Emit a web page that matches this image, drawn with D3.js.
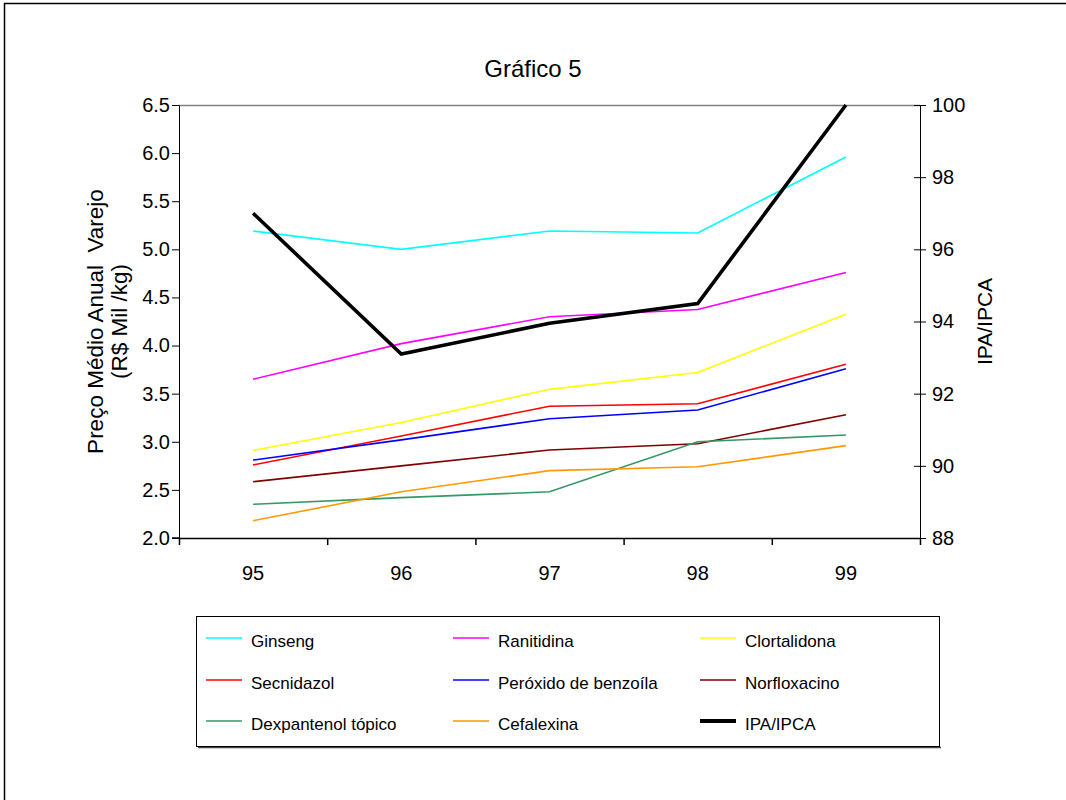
<!DOCTYPE html>
<html>
<head>
<meta charset="utf-8">
<script src="https://cdn.jsdelivr.net/npm/d3@7"></script>
<style>
  html, body { margin: 0; padding: 0; background: #fff; }
  svg { display: block; }
  text { font-family: "Liberation Sans", Arial, sans-serif; fill: #000; }
</style>
</head>
<body>
<svg id="chart" width="1066" height="800"></svg>
<script>
// Years on the category axis
const years = ["95", "96", "97", "98", "99"];

// Average annual retail price (R$ Mil / kg), left axis
const ginseng      = [5.19, 5.00, 5.19, 5.17, 5.96];
const ranitidina   = [3.65, 4.02, 4.30, 4.375, 4.76];
const clortalidona = [2.91, 3.20, 3.545, 3.72, 4.325];
const secnidazol   = [2.76, 3.06, 3.37, 3.395, 3.805];
const peroxido     = [2.81, 3.02, 3.24, 3.33, 3.76];
const norfloxacino = [2.585, 2.75, 2.915, 2.98, 3.28];
const dexpantenol  = [2.35, 2.42, 2.48, 3.00, 3.07];
const cefalexina   = [2.18, 2.48, 2.70, 2.74, 2.96];

// IPA/IPCA index, right axis
const ipaIpca = [97.0, 93.1, 93.95, 94.5, 100];

// Axis ticks
const leftTicks  = [2.0, 2.5, 3.0, 3.5, 4.0, 4.5, 5.0, 5.5, 6.0, 6.5];
const rightTicks = [88, 90, 92, 94, 96, 98, 100];

const seriesNames = ["Ginseng", "Ranitidina", "Clortalidona", "Secnidazol",
  "Peróxido de benzoíla", "Norfloxacino", "Dexpantenol tópico", "Cefalexina", "IPA/IPCA"];
const seriesValues = [ginseng, ranitidina, clortalidona, secnidazol,
  peroxido, norfloxacino, dexpantenol, cefalexina, ipaIpca];
const seriesColors = ["#00FFFF", "#FF00FF", "#FFFF00", "#FF0000",
  "#0000FF", "#800000", "#339966", "#FF9900", "#000000"];

const svg = d3.select("#chart");

// Outer frame
svg.append("rect")
  .attr("x", 4.5).attr("y", 3.5).attr("width", 1120).attr("height", 860)
  .attr("fill", "none").attr("stroke", "#000").attr("stroke-width", 1.5);

const plotL = 179, plotR = 920, plotT = 105, plotB = 538;

const x = d3.scaleBand().domain(years).range([plotL, plotR]).padding(0);
const xc = d => x(d) + x.bandwidth() / 2;
const xEdge = d3.scaleLinear().domain([0, years.length]).range([plotL, plotR]);
const yL = d3.scaleLinear().domain([2, 6.5]).range([plotB, plotT]);
const yR = d3.scaleLinear().domain([88, 100]).range([plotB, plotT]);

// Title
svg.append("text")
  .attr("x", 533).attr("y", 77)
  .attr("text-anchor", "middle")
  .style("font-size", "24px")
  .text("Gráfico 5");

// Plot area top border
svg.append("line")
  .attr("x1", plotL).attr("x2", plotR).attr("y1", plotT + 0.5).attr("y2", plotT + 0.5)
  .attr("stroke", "#808080").attr("stroke-width", 1.5);

// Left axis
const gL = svg.append("g").attr("transform", `translate(${plotL},0)`)
  .call(d3.axisLeft(yL).tickValues(leftTicks).tickFormat(d3.format(".1f"))
    .tickSize(7).tickPadding(2).tickSizeOuter(0));
gL.selectAll("text").style("font-size", "20px").attr("fill", "#000");
gL.selectAll("line, path").attr("stroke", "#000");

// Right axis
const gR = svg.append("g").attr("transform", `translate(${plotR},0)`)
  .call(d3.axisRight(yR).tickValues(rightTicks).tickFormat(d3.format("d"))
    .tickSize(6).tickPadding(6).tickSizeOuter(0));
gR.selectAll(".tick line").attr("x1", -6);
gR.selectAll("text").style("font-size", "20px").attr("fill", "#000");
gR.selectAll("line, path").attr("stroke", "#000");

// Bottom axis: boundary ticks and centred year labels
const gB = svg.append("g").attr("transform", `translate(0,${plotB})`)
  .call(d3.axisBottom(xEdge).tickValues(d3.range(0, years.length + 1))
    .tickFormat("").tickSize(7).tickSizeOuter(0));
gB.selectAll("line, path").attr("stroke", "#000").attr("stroke-width", 1.5);
svg.append("line")
  .attr("x1", plotL - 7).attr("x2", plotL).attr("y1", plotB).attr("y2", plotB)
  .attr("stroke", "#000").attr("stroke-width", 1.5);

svg.append("g").selectAll("text").data(years).join("text")
  .attr("x", d => xc(d)).attr("y", 580)
  .attr("text-anchor", "middle")
  .style("font-size", "20px")
  .text(d => d);

// Axis titles
const yTitle = svg.append("text")
  .attr("transform", `translate(0,${(plotT + plotB) / 2}) rotate(-90)`)
  .attr("text-anchor", "middle")
  .style("font-size", "22.5px");
yTitle.append("tspan").attr("x", 0).attr("y", 103).text("Preço Médio Anual\u00a0 Varejo");
yTitle.append("tspan").attr("x", 0).attr("y", 127).text("(R$ Mil /kg)");

svg.append("text")
  .attr("transform", `translate(992,${(plotT + plotB) / 2}) rotate(-90)`)
  .attr("text-anchor", "middle")
  .style("font-size", "21px")
  .text("IPA/IPCA");

// Series lines
const lineL = d3.line().x((d, i) => xc(years[i])).y(d => yL(d));
const lineR = d3.line().x((d, i) => xc(years[i])).y(d => yR(d));

seriesValues.forEach((vals, k) => {
  const isIndex = k === seriesValues.length - 1;
  svg.append("path")
    .datum(vals)
    .attr("d", isIndex ? lineR : lineL)
    .attr("fill", "none")
    .attr("stroke", seriesColors[k])
    .attr("stroke-width", isIndex ? 3.6 : 1.6)
    .attr("stroke-linejoin", "miter");
});

// Legend
const lg = svg.append("g");
lg.append("line")
  .attr("x1", 198).attr("x2", 941).attr("y1", 747.5).attr("y2", 747.5)
  .attr("stroke", "#444").attr("stroke-width", 1.5);
lg.append("rect")
  .attr("x", 196.5).attr("y", 616.5).attr("width", 743).attr("height", 130)
  .attr("fill", "#fff").attr("stroke", "#000").attr("stroke-width", 1);

const colX = [206, 453, 700];
const rowY = [638, 680, 721];
seriesNames.forEach((name, k) => {
  const cx = colX[k % 3], cy = rowY[Math.floor(k / 3)];
  const isIndex = k === seriesNames.length - 1;
  lg.append("line")
    .attr("x1", cx).attr("x2", cx + 36).attr("y1", cy).attr("y2", cy)
    .attr("stroke", seriesColors[k]).attr("stroke-width", isIndex ? 4 : 1.6);
  lg.append("text")
    .attr("x", cx + 45).attr("y", cy + 9)
    .style("font-size", "17px")
    .text(name);
});
</script>
</body>
</html>
